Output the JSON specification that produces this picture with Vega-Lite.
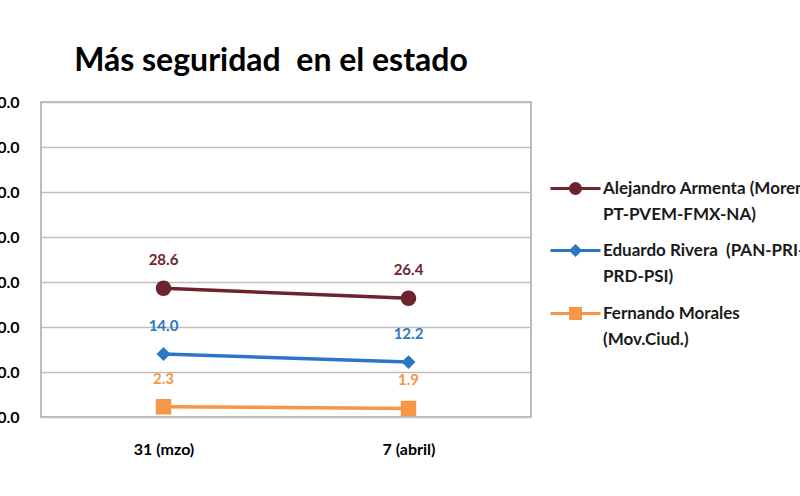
{
  "$schema": "https://vega.github.io/schema/vega-lite/v6.json",
  "autosize": "none",
  "width": 490,
  "height": 315,
  "padding": {"left": 41, "top": 102, "right": 269, "bottom": 79},
  "background": "white",
  "config": {
    "font": "Lato",
    "view": {"stroke": "#A6A6A6", "strokeWidth": 1.5}
  },
  "title": {
    "text": "Más seguridad\u00a0 en el estado",
    "fontSize": 32,
    "fontWeight": "bold",
    "font": "Lato",
    "color": "#000000",
    "anchor": "middle",
    "dx": -15,
    "offset": 16
  },
  "data": {
    "values": [
      {"fecha": "31 (mzo)", "candidato": "Alejandro Armenta (Morena-PT-PVEM-FMX-NA)", "valor": 28.6},
      {"fecha": "7 (abril)", "candidato": "Alejandro Armenta (Morena-PT-PVEM-FMX-NA)", "valor": 26.4},
      {"fecha": "31 (mzo)", "candidato": "Eduardo Rivera  (PAN-PRI-PRD-PSI)", "valor": 14.0},
      {"fecha": "7 (abril)", "candidato": "Eduardo Rivera  (PAN-PRI-PRD-PSI)", "valor": 12.2},
      {"fecha": "31 (mzo)", "candidato": "Fernando Morales (Mov.Ciud.)", "valor": 2.3},
      {"fecha": "7 (abril)", "candidato": "Fernando Morales (Mov.Ciud.)", "valor": 1.9}
    ]
  },
  "encoding": {
    "x": {
      "field": "fecha", "type": "nominal", "sort": null,
      "scale": {"type": "point", "padding": 0.5},
      "axis": {
        "title": null, "labelAngle": 0, "ticks": false, "domain": false, "grid": false,
        "labelFont": "Lato", "labelFontSize": 16, "labelFontWeight": "bold", "labelColor": "#000000",
        "labelPadding": 24
      }
    },
    "y": {
      "field": "valor", "type": "quantitative",
      "scale": {"domain": [0, 70], "nice": false},
      "axis": {
        "title": null, "values": [0, 10, 20, 30, 40, 50, 60, 70], "format": ".1f",
        "ticks": false, "domain": false, "gridColor": "#BFBFBF", "gridWidth": 1.5,
        "labelFont": "Lato", "labelFontSize": 16, "labelFontWeight": "bold", "labelColor": "#000000",
        "labelPadding": 22
      }
    },
    "color": {
      "field": "candidato", "type": "nominal", "sort": null,
      "scale": {"range": ["#6E2330", "#2E75C6", "#F79646"]}
    }
  },
  "layer": [
    {
      "mark": {"type": "line", "strokeWidth": 3.5},
      "encoding": {
        "color": {
          "field": "candidato", "type": "nominal", "sort": null,
          "legend": {
            "title": null, "orient": "none", "legendX": 526, "legendY": 78,
            "symbolSize": 100, "symbolStrokeWidth": 3,
            "labelFont": "Lato", "labelFontSize": 17, "labelFontWeight": "bold", "labelColor": "#1A1A1A",
            "labelLineHeight": 26, "labelLimit": 400, "labelOffset": 19, "rowPadding": 17,
            "labelExpr": "datum.label == 'Alejandro Armenta (Morena-PT-PVEM-FMX-NA)' ? ['Alejandro Armenta (Morena-', 'PT-PVEM-FMX-NA)'] : datum.label == 'Eduardo Rivera  (PAN-PRI-PRD-PSI)' ? ['Eduardo Rivera\u00a0 (PAN-PRI-', 'PRD-PSI)'] : ['Fernando Morales', '(Mov.Ciud.)']",
            "encode": {
              "labels": {"update": {"lineHeight": {"value": 26}}},
              "symbols": {"update": {
                "shape": {"scale": "shape", "field": "value"},
                "fill": {"scale": "color", "field": "value"},
                "stroke": {"scale": "color", "field": "value"},
                "strokeWidth": {"value": 3},
                "opacity": {"value": 1}
              }}
            }
          }
        }
      }
    },
    {
      "mark": {"type": "point", "filled": true, "opacity": 1, "size": 240, "strokeWidth": 0},
      "encoding": {
        "shape": {
          "field": "candidato", "type": "nominal", "sort": null,
          "scale": {"range": [
            "M-5,0H5M1,0A1,1 0 1,1 -1,0A1,1 0 1,1 1,0Z",
            "M-5,0H5M0,-0.9L0.9,0L0,0.9L-0.9,0Z",
            "M-5,0H5M-1,-1H1V1H-1Z"
          ]},
          "legend": null
        },
        "color": {"field": "candidato", "type": "nominal", "sort": null, "legend": null}
      }
    },
    {
      "mark": {"type": "text", "dy": -28, "fontSize": 15, "fontWeight": "bold", "font": "Lato"},
      "encoding": {
        "text": {"field": "valor", "type": "quantitative", "format": ".1f"},
        "color": {"field": "candidato", "type": "nominal", "sort": null, "legend": null}
      }
    }
  ]
}
